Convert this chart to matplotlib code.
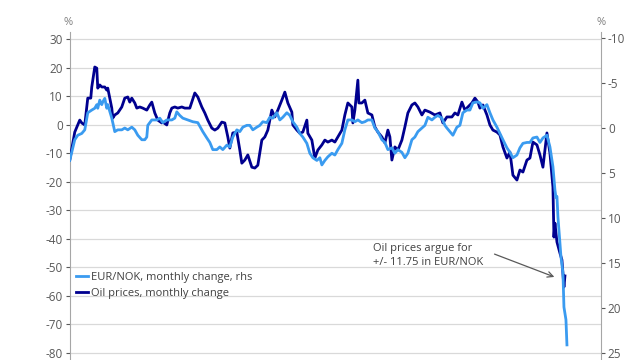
import matplotlib.pyplot as plt
from matplotlib.lines import Line2D

plt.rcParams['font.family'] = ['Open Sans', 'DejaVu Sans']

# oil prices, monthly change (%), left axis
t_oil = [0, 5, 10, 12, 15, 18, 21, 22, 25, 27, 28, 30, 32, 35, 37, 38, 40, 42, 43, 45,
         48, 52, 55, 58, 60, 62, 65, 67, 70, 73, 77, 80, 82, 85, 88, 92, 93, 97, 100, 102,
         105, 108, 112, 115, 120, 125, 128, 132, 135, 138, 142, 145, 148, 152, 155, 158, 160, 163, 167, 170,
         172, 175, 178, 182, 185, 188, 190, 192, 195, 198, 202, 205, 208, 212, 215, 218, 222, 223, 227, 230,
         233, 237, 238, 242, 245, 248, 252, 255, 258, 262, 265, 268, 272, 275, 278, 282, 283, 285, 288, 289,
         292, 295, 298, 302, 305, 308, 312, 315, 318, 320, 322, 325, 328, 332, 335, 338, 342, 345, 348, 352,
         355, 360, 365, 370, 373, 377, 382, 385, 388, 392, 395, 398, 402, 405, 408, 410, 413, 417, 420, 423,
         427, 430, 433, 437, 440, 443, 447, 450, 453, 457, 460, 463, 467, 470, 473, 477, 480, 483, 484, 485,
         487, 490, 492, 494, 495]
oil = [-12.4, -2.6, 1.6, 0.6, -0.1, 9.3, 9.3, 13.2, 20.2, 19.8, 12.8, 13.9, 13.2, 13.2, 12.1, 12.8, 9.3, 5.8, 2.3, 3.4,
       4.1, 6.2, 9.3, 9.7, 7.9, 9.3, 7.6, 5.8, 6.2, 5.8, 5.1, 6.9, 7.9, 4.1, 1.6, 0.6, 0.9, -0.1, 4.1, 5.8,
       6.2, 5.8, 6.2, 5.8, 5.8, 11.1, 9.7, 6.2, 4.1, 1.6, -1.2, -1.9, -1.2, 0.9, 0.6, -4.3, -8.2, -2.9, -2.6, -8.9,
       -13.5, -12.4, -10.6, -14.9, -15.2, -14.2, -9.9, -5.4, -4.3, -1.9, 5.1, 2.7, 5.1, 8.6, 11.4, 7.6, 4.4, -0.1, -1.9, -3.0,
       -2.6, 1.6, -3.0, -5.4, -11.7, -8.9, -7.1, -5.4, -6.1, -5.4, -6.1, -4.3, -1.9, 3.4, 7.6, 6.2, 0.6, 5.1, 15.6, 7.6,
       7.6, 8.6, 4.1, 3.4, -0.8, -2.6, -4.3, -6.4, -1.9, -4.3, -12.4, -7.8, -8.9, -5.4, -0.8, 4.1, 6.9, 7.6, 6.2, 3.4,
       5.1, 4.4, 3.4, 4.1, 0.6, 2.7, 2.7, 4.1, 3.4, 7.9, 5.1, 6.2, 7.6, 9.3, 7.9, 5.8, 6.9, 3.4, -0.1, -1.9,
       -2.6, -3.6, -7.8, -11.7, -9.6, -17.7, -19.4, -15.9, -16.6, -12.4, -11.7, -6.1, -7.1, -10.6, -14.9, -2.9, -10.0, -21.9, -39.4, -34.5,
       -41.1, -45.0, -47.4, -56.9, -53.0]

# EUR/NOK, monthly change (%), right axis (inverted)
t_nok = [0, 2, 5, 8, 12, 15, 18, 22, 25, 27, 28, 30, 32, 33, 35, 37, 38, 42, 45, 48,
         52, 55, 58, 62, 65, 68, 72, 75, 77, 78, 82, 87, 90, 93, 97, 102, 105, 107, 110, 113,
         118, 123, 128, 133, 137, 140, 143, 147, 150, 153, 157, 160, 163, 167, 170, 173, 177, 180, 183, 187,
         190, 193, 197, 200, 203, 207, 210, 213, 217, 220, 223, 227, 230, 233, 237, 240, 243, 247, 250, 252,
         255, 258, 262, 265, 268, 272, 275, 278, 282, 285, 288, 292, 295, 298, 302, 305, 308, 312, 315, 318,
         322, 325, 328, 332, 335, 338, 342, 345, 348, 352, 355, 358, 362, 365, 368, 372, 375, 377, 380, 383,
         387, 390, 393, 397, 400, 403, 407, 410, 413, 417, 420, 423, 427, 430, 433, 437, 440, 443, 447, 450,
         453, 457, 460, 463, 467, 470, 473, 477, 480, 483, 485, 486, 487, 488, 489, 490, 491, 493, 494, 496,
         497]
nok = [3.6, 2.7, 1.3, 0.8, 0.6, 0.2, -1.7, -2.0, -2.2, -2.6, -2.2, -3.1, -2.6, -2.9, -3.3, -2.2, -2.6, -1.1, 0.4, 0.2,
       0.2, 0.0, 0.2, -0.1, 0.2, 0.8, 1.3, 1.3, 1.0, -0.3, -0.9, -0.9, -1.1, -0.6, -0.9, -0.9, -1.1, -1.8, -1.4, -1.1,
       -0.9, -0.7, -0.6, 0.4, 1.1, 1.6, 2.4, 2.4, 2.1, 2.4, 1.9, 2.1, 1.0, 0.2, 0.4, -0.1, -0.3, -0.3, 0.2, -0.1,
       -0.3, -0.7, -0.6, -1.2, -1.1, -1.7, -0.9, -1.2, -1.7, -1.4, -0.7, -0.1, 0.6, 1.0, 1.7, 2.8, 3.3, 3.6, 3.3, 4.1,
       3.6, 3.2, 2.8, 3.0, 2.4, 1.7, 0.2, -0.9, -0.9, -0.7, -0.9, -0.6, -0.7, -0.9, -0.9, 0.0, 0.4, 1.3, 1.6, 2.4,
       2.2, 2.8, 2.4, 2.7, 3.3, 2.8, 1.3, 1.0, 0.4, 0.0, -0.3, -1.2, -0.9, -1.2, -1.4, -1.1, -0.3, 0.0, 0.4, 0.8,
       -0.1, -0.3, -1.7, -2.0, -2.0, -2.8, -2.9, -2.8, -2.2, -2.6, -1.7, -0.9, -0.1, 0.6, 1.3, 2.2, 2.7, 3.3, 3.0, 2.2,
       1.7, 1.6, 1.6, 1.1, 1.0, 1.6, 1.1, 0.8, 2.1, 4.3, 6.9, 7.7, 7.6, 9.9, 11.3, 12.8, 14.3, 16.1, 19.9, 21.3,
       24.1]

left_ticks = [30, 20, 10, 0, -10, -20, -30, -40, -50, -60, -70, -80]
right_ticks = [-10, -5, 0, 5, 10, 15, 20, 25]

dark = '#00008f'
light = '#3a9bf0'
grey = '#595959'

fig = plt.figure(figsize=(6.4, 3.6), dpi=100)
ax = fig.add_axes([0.109, 0.0, 0.83, 0.911])
ax2 = ax.twinx()

for y in left_ticks:
    ax.axhline(y, color='#d9d9d9', lw=0.9, zorder=0)

ax.plot(t_oil, oil, color=dark, lw=2.0, zorder=3)
ax2.plot(t_nok, nok, color=light, lw=2.0, zorder=3)

ax.set_xlim(0, 531)
ax.set_ylim(-82.45, 32.45)
ax2.set_ylim(25.78, -10.67)

ax.set_yticks(left_ticks)
ax.set_yticklabels([str(v) for v in left_ticks])
ax2.set_yticks(right_ticks)
ax2.set_yticklabels([str(v) for v in right_ticks])
ax.set_xticks([])

for a in (ax, ax2):
    a.tick_params(axis='y', colors=grey, labelsize=8.5, length=3, width=0.8, pad=2)
    for s in a.spines.values():
        s.set_visible(False)
ax.spines['left'].set_visible(True)
ax.spines['left'].set_color('#a6a6a6')
ax2.spines['right'].set_visible(True)
ax2.spines['right'].set_color('#a6a6a6')

fig.text(0.106, 0.93, '%', color='#7f7f7f', fontsize=8, ha='center')
fig.text(0.939, 0.93, '%', color='#7f7f7f', fontsize=8, ha='center')

handles = [Line2D([], [], color=light, lw=2), Line2D([], [], color=dark, lw=2)]
ax2.legend(handles, ['EUR/NOK, monthly change, rhs', 'Oil prices, monthly change'],
           loc='upper left', bbox_to_anchor=(0.0, 0.29), frameon=False,
           fontsize=8, handlelength=1.0, handletextpad=0.3, labelspacing=0.5,
           borderaxespad=0.2, labelcolor='#404040')

ax.text(303, -41.5, 'Oil prices argue for\n+/- 11.75 in EUR/NOK', fontsize=8,
        color='#404040', va='top', ha='left', linespacing=1.3)
ax.annotate('', xy=(487, -53.7), xytext=(422, -45.0),
            arrowprops=dict(arrowstyle='->', color='#595959', lw=0.9))

fig.savefig('out.png', dpi=100)
